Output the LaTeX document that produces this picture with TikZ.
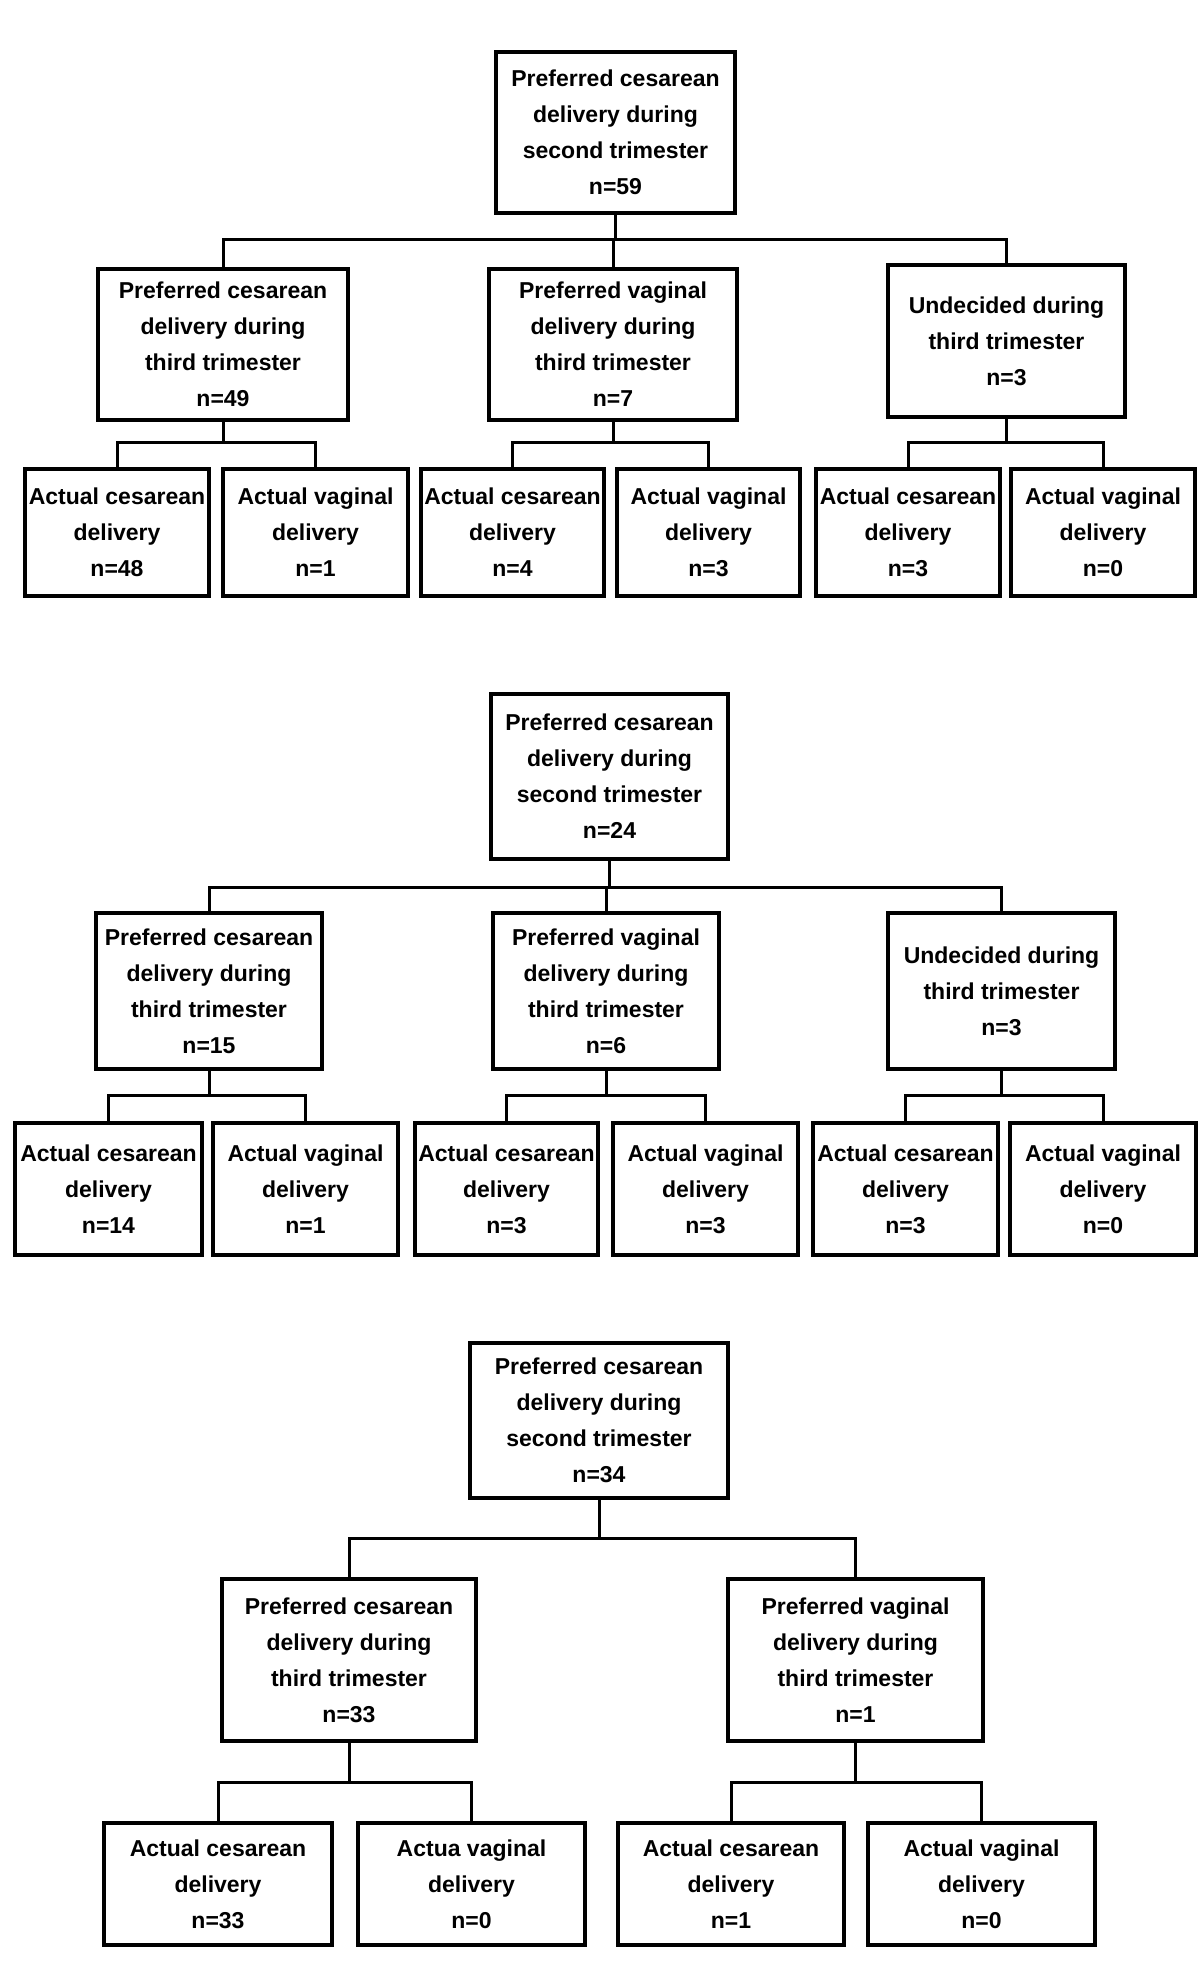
\documentclass[tikz,border=0pt]{standalone}
\usepackage{fontspec}
\setmainfont{Liberation Sans}
\begin{document}
\begin{tikzpicture}[x=0.5pt,y=-0.5pt,
  box/.style={draw, line width=1.8pt, inner sep=0pt, align=center,
    font=\bfseries\fontsize{11.5}{18}\selectfont},
  conn/.style={line width=1.5pt}]
\useasboundingbox[fill=white] (0,0) rectangle (1200,1979);
% ---------- Panel 1 ----------
\node[box, minimum width=239*0.5pt, minimum height=161*0.5pt] (T1) at (615.5,132.5) {Preferred cesarean\\delivery during\\second trimester\\n=59};
\node[box, minimum width=250*0.5pt, minimum height=151*0.5pt] (C1a) at (223,344.5) {Preferred cesarean\\delivery during\\third trimester\\n=49};
\node[box, minimum width=248*0.5pt, minimum height=151*0.5pt] (C1b) at (613,344.5) {Preferred vaginal\\delivery during\\third trimester\\n=7};
\node[box, minimum width=237*0.5pt, minimum height=152*0.5pt] (C1c) at (1006.5,341) {Undecided during\\third trimester\\n=3};
\node[box, minimum width=184*0.5pt, minimum height=127*0.5pt] (G1a) at (117,532.5) {Actual cesarean\\delivery\\n=48};
\node[box, minimum width=185*0.5pt, minimum height=127*0.5pt] (G1b) at (315.5,532.5) {Actual vaginal\\delivery\\n=1};
\node[box, minimum width=183*0.5pt, minimum height=127*0.5pt] (G1c) at (512.5,532.5) {Actual cesarean\\delivery\\n=4};
\node[box, minimum width=183*0.5pt, minimum height=127*0.5pt] (G1d) at (708.5,532.5) {Actual vaginal\\delivery\\n=3};
\node[box, minimum width=184*0.5pt, minimum height=127*0.5pt] (G1e) at (908,532.5) {Actual cesarean\\delivery\\n=3};
\node[box, minimum width=184*0.5pt, minimum height=127*0.5pt] (G1f) at (1103,532.5) {Actual vaginal\\delivery\\n=0};
\coordinate (y1) at (0,240);
\coordinate (s1) at (0,442);
\draw[conn] (T1.south) -- (T1.south |- y1);
\draw[conn] (C1a.north) |- (C1c.north |- y1) -- (C1c.north);
\draw[conn] (C1b.north) -- (C1b.north |- y1);
\draw[conn] (C1a.south) -- (C1a.south |- s1);
\draw[conn] (G1a.north) |- (G1b.north |- s1) -- (G1b.north);
\draw[conn] (C1b.south) -- (C1b.south |- s1);
\draw[conn] (G1c.north) |- (G1d.north |- s1) -- (G1d.north);
\draw[conn] (C1c.south) -- (C1c.south |- s1);
\draw[conn] (G1e.north) |- (G1f.north |- s1) -- (G1f.north);
% ---------- Panel 2 ----------
\node[box, minimum width=237*0.5pt, minimum height=165*0.5pt] (T2) at (609.5,776.5) {Preferred cesarean\\delivery during\\second trimester\\n=24};
\node[box, minimum width=226*0.5pt, minimum height=156*0.5pt] (C2a) at (209,991) {Preferred cesarean\\delivery during\\third trimester\\n=15};
\node[box, minimum width=226*0.5pt, minimum height=156*0.5pt] (C2b) at (606,991) {Preferred vaginal\\delivery during\\third trimester\\n=6};
\node[box, minimum width=227*0.5pt, minimum height=156*0.5pt] (C2c) at (1001.5,991) {Undecided during\\third trimester\\n=3};
\node[box, minimum width=187*0.5pt, minimum height=132*0.5pt] (G2a) at (108.5,1189) {Actual cesarean\\delivery\\n=14};
\node[box, minimum width=185*0.5pt, minimum height=132*0.5pt] (G2b) at (305.5,1189) {Actual vaginal\\delivery\\n=1};
\node[box, minimum width=183*0.5pt, minimum height=132*0.5pt] (G2c) at (506.5,1189) {Actual cesarean\\delivery\\n=3};
\node[box, minimum width=185*0.5pt, minimum height=132*0.5pt] (G2d) at (705.5,1189) {Actual vaginal\\delivery\\n=3};
\node[box, minimum width=185*0.5pt, minimum height=132*0.5pt] (G2e) at (905.5,1189) {Actual cesarean\\delivery\\n=3};
\node[box, minimum width=186*0.5pt, minimum height=132*0.5pt] (G2f) at (1103,1189) {Actual vaginal\\delivery\\n=0};
\coordinate (y2) at (0,887);
\coordinate (s2) at (0,1095);
\draw[conn] (T2.south) -- (T2.south |- y2);
\draw[conn] (C2a.north) |- (C2c.north |- y2) -- (C2c.north);
\draw[conn] (C2b.north) -- (C2b.north |- y2);
\draw[conn] (C2a.south) -- (C2a.south |- s2);
\draw[conn] (G2a.north) |- (G2b.north |- s2) -- (G2b.north);
\draw[conn] (C2b.south) -- (C2b.south |- s2);
\draw[conn] (G2c.north) |- (G2d.north |- s2) -- (G2d.north);
\draw[conn] (C2c.south) -- (C2c.south |- s2);
\draw[conn] (G2e.north) |- (G2f.north |- s2) -- (G2f.north);
% ---------- Panel 3 ----------
\node[box, minimum width=258*0.5pt, minimum height=155*0.5pt] (T3) at (599,1420.5) {Preferred cesarean\\delivery during\\second trimester\\n=34};
\node[box, minimum width=254*0.5pt, minimum height=162*0.5pt] (C3a) at (349,1660) {Preferred cesarean\\delivery during\\third trimester\\n=33};
\node[box, minimum width=255*0.5pt, minimum height=162*0.5pt] (C3b) at (855.5,1660) {Preferred vaginal\\delivery during\\third trimester\\n=1};
\node[box, minimum width=228*0.5pt, minimum height=122*0.5pt] (G3a) at (218,1884) {Actual cesarean\\delivery\\n=33};
\node[box, minimum width=227*0.5pt, minimum height=122*0.5pt] (G3b) at (471.5,1884) {Actua vaginal\\delivery\\n=0};
\node[box, minimum width=226*0.5pt, minimum height=122*0.5pt] (G3c) at (731,1884) {Actual cesarean\\delivery\\n=1};
\node[box, minimum width=227*0.5pt, minimum height=122*0.5pt] (G3d) at (981.5,1884) {Actual vaginal\\delivery\\n=0};
\coordinate (y3) at (0,1538);
\coordinate (s3) at (0,1782);
\draw[conn] (T3.south) -- (T3.south |- y3);
\draw[conn] (C3a.north) |- (C3b.north |- y3) -- (C3b.north);
\draw[conn] (C3a.south) -- (C3a.south |- s3);
\draw[conn] (G3a.north) |- (G3b.north |- s3) -- (G3b.north);
\draw[conn] (C3b.south) -- (C3b.south |- s3);
\draw[conn] (G3c.north) |- (G3d.north |- s3) -- (G3d.north);
\end{tikzpicture}
\end{document}
